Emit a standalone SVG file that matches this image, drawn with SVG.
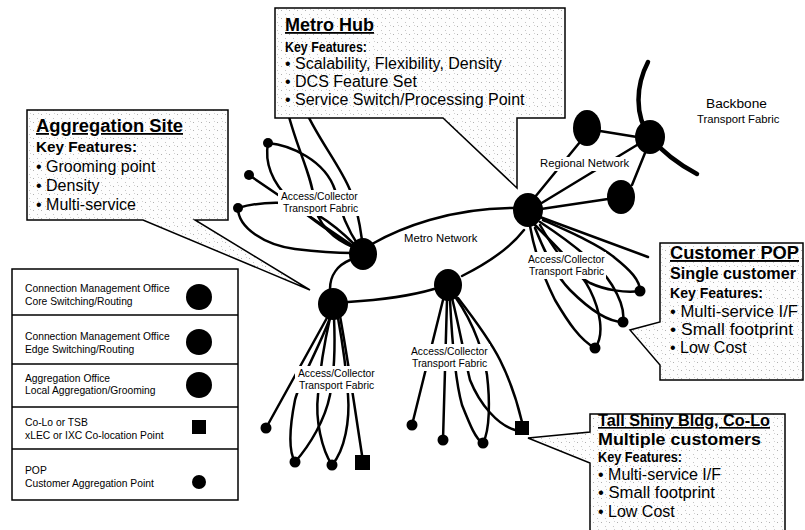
<svg xmlns="http://www.w3.org/2000/svg" width="805" height="530" viewBox="0 0 805 530">
<defs>
<pattern id="speck" width="8" height="8" patternUnits="userSpaceOnUse">
<rect width="8" height="8" fill="#fdfdfd"/>
<rect x="1" y="2" width="1" height="1" fill="#b0b0b0"/>
<rect x="5" y="6" width="1" height="1" fill="#c4c4c4"/>
<rect x="6" y="1" width="1" height="1" fill="#d0d0d0"/>
</pattern>
<style>
.ln{fill:none;stroke:#000;stroke-width:2.5;stroke-linecap:round}
.thick{fill:none;stroke:#000;stroke-width:4.5;stroke-linecap:round}
.big{fill:#000}
.pop{fill:#000}
.lbl{font-family:"Liberation Sans",Arial,sans-serif;font-size:10.3px;fill:#000}
.net{font-family:"Liberation Sans",Arial,sans-serif;font-size:11.3px;fill:#000}
.bg{fill:#fff}
.co{fill:url(#speck);stroke:#000;stroke-width:1.5}
.ttl{font-family:"Liberation Sans",Arial,sans-serif;font-weight:bold;text-decoration:underline;fill:#000}
.kf{font-family:"Liberation Sans",Arial,sans-serif;font-weight:bold;font-size:15.5px;fill:#000}
.bl{font-family:"Liberation Sans",Arial,sans-serif;font-size:16px;fill:#000}
.leg{font-family:"Liberation Sans",Arial,sans-serif;font-size:10.3px;fill:#000}
</style>
</defs>
<rect width="805" height="530" fill="#fff"/>

<g id="connectors">
<!-- metro ring -->
<path class="ln" d="M372,244 C400,228 450,208 514,208"/>
<path class="ln" d="M524,230 C510,248 490,262 462,276"/>
<path class="ln" d="M434,289 C410,296 380,300 348,302"/>
<path class="ln" d="M330,289 C330,275 338,265 350,260"/>
<!-- regional -->
<path class="ln" d="M535,197 L580,142"/>
<path class="ln" d="M540,204 L637,145"/>
<path class="ln" d="M541,209 L608,199"/>
<path class="ln" d="M600,131 L637,137"/>
<path class="ln" d="M645,153 L632,185"/>
<path class="thick" d="M648,62 C636,85 634,115 650,137 C665,155 680,165 697,174"/>
<!-- fabric N1 -->
<path class="ln" d="M286,105 C295,145 312,175 314,200 C316,225 335,240 355,248"/>
<path class="ln" d="M303,105 C315,135 340,165 350,190 C356,205 360,225 362,240"/>
<path class="ln" d="M268,143 C290,145 325,160 335,190 C340,210 348,230 358,245"/>
<path class="ln" d="M268,143 C264,165 275,185 290,200 C305,215 330,232 355,248"/>
<path class="ln" d="M249,175 L356,248"/>
<path class="ln" d="M238,208 C255,203 268,202 285,203 C310,206 335,225 355,245"/>
<path class="ln" d="M238,208 C238,228 265,245 295,249 C320,252 340,253 352,253"/>
<!-- fabric N2 -->
<path class="ln" d="M328,316 L266,428"/>
<path class="ln" d="M330,318 C318,350 300,380 295,400 C290,425 288,450 295,462"/>
<path class="ln" d="M295,462 C310,445 325,420 330,395 C335,370 335,340 334,318"/>
<path class="ln" d="M332,465 C322,450 315,420 318,395 C320,370 325,340 330,318"/>
<path class="ln" d="M332,465 C345,450 350,420 348,395 C346,365 342,340 338,318"/>
<path class="ln" d="M340,316 C348,360 355,410 362,455"/>
<!-- fabric N3 -->
<path class="ln" d="M443,300 L412,425"/>
<path class="ln" d="M447,300 L443,440"/>
<path class="ln" d="M450,300 C452,340 455,380 462,405 C470,425 476,440 483,443"/>
<path class="ln" d="M483,443 C490,430 490,400 487,375 C484,355 475,325 456,298"/>
<path class="ln" d="M452,298 C460,330 465,360 470,380 C480,405 498,425 515,430"/>
<path class="ln" d="M458,298 C475,320 490,340 500,360 C510,380 518,405 522,422"/>
<!-- fabric N4 -->
<path class="ln" d="M540,217 L648,257"/>
<path class="ln" d="M543,220 C570,232 600,245 615,258 C630,270 640,280 640,291"/>
<path class="ln" d="M640,291 C625,293 605,290 590,283 C575,275 560,260 540,225"/>
<path class="ln" d="M540,222 C575,245 600,265 612,285 C620,298 625,310 623,322"/>
<path class="ln" d="M623,322 C605,322 585,305 570,290 C560,280 550,265 535,228"/>
<path class="ln" d="M535,225 C560,250 580,270 590,290 C600,310 605,335 595,348"/>
<path class="ln" d="M530,226 C535,255 545,280 555,300 C568,322 580,340 595,348"/>
</g>

<g id="node-n1"><ellipse class="big" cx="363" cy="254" rx="14" ry="16"/></g>
<g id="node-n2"><ellipse class="big" cx="333" cy="304" rx="15" ry="16"/></g>
<g id="node-n3"><ellipse class="big" cx="448" cy="285" rx="14" ry="16"/></g>
<g id="node-n4"><ellipse class="big" cx="528" cy="210" rx="15" ry="17"/></g>
<g id="node-ra"><ellipse class="big" cx="587" cy="128" rx="14" ry="18"/></g>
<g id="node-rb"><ellipse class="big" cx="650" cy="137" rx="15" ry="17"/></g>
<g id="node-rc"><ellipse class="big" cx="621" cy="197" rx="14" ry="17"/></g>

<g id="pops">
<circle class="pop" cx="268" cy="143" r="5"/>
<circle class="pop" cx="249" cy="175" r="5"/>
<circle class="pop" cx="238" cy="208" r="5"/>
<circle class="pop" cx="266" cy="428" r="5.5"/>
<circle class="pop" cx="295" cy="462" r="5.5"/>
<circle class="pop" cx="332" cy="465" r="5.5"/>
<rect class="pop" x="355" y="455" width="15" height="15"/>
<circle class="pop" cx="412" cy="425" r="5.5"/>
<circle class="pop" cx="443" cy="440" r="5.5"/>
<circle class="pop" cx="483" cy="443" r="5.5"/>
<rect class="pop" x="515" y="421" width="14" height="14"/>
<circle class="pop" cx="640" cy="291" r="5.5"/>
<circle class="pop" cx="623" cy="322" r="5.5"/>
<circle class="pop" cx="595" cy="348" r="5.5"/>
</g>

<g id="labels">
<rect class="bg" x="278" y="190" width="83" height="26"/>
<text class="lbl" x="281" y="200">Access/Collector</text>
<text class="lbl" x="283" y="212">Transport Fabric</text>
<rect class="bg" x="295" y="366" width="82" height="27"/>
<text class="lbl" x="298" y="377">Access/Collector</text>
<text class="lbl" x="299" y="389">Transport Fabric</text>
<rect class="bg" x="408" y="344" width="82" height="27"/>
<text class="lbl" x="411" y="355">Access/Collector</text>
<text class="lbl" x="412" y="367">Transport Fabric</text>
<rect class="bg" x="525" y="252" width="81" height="27"/>
<text class="lbl" x="528" y="263">Access/Collector</text>
<text class="lbl" x="529" y="275">Transport Fabric</text>
<rect class="bg" x="538" y="157" width="92" height="14"/>
<text class="net" x="540" y="167">Regional Network</text>
<text class="net" x="404" y="242">Metro Network</text>
<text class="net" x="706" y="108" style="font-size:13.7px">Backbone</text>
<text class="net" x="697" y="123">Transport Fabric</text>
</g>

<g id="callout-aggregation">
<path class="co" d="M27,110 H228 V220 H195 L310,290 L143,220 H27 Z"/>
<text class="ttl" x="36" y="132" font-size="18" textLength="147" lengthAdjust="spacingAndGlyphs">Aggregation Site</text>
<text class="kf" x="36" y="152" textLength="101" lengthAdjust="spacingAndGlyphs">Key Features:</text>
<text class="bl" x="36" y="172">• Grooming point</text>
<text class="bl" x="36" y="191">• Density</text>
<text class="bl" x="36" y="210">• Multi-service</text>
</g>

<g id="callout-metrohub">
<path class="co" d="M275,8 H565 V118 H517 V188 L443,118 H275 Z"/>
<text class="ttl" x="285" y="31" font-size="18">Metro Hub</text>
<text class="kf" x="285" y="52" style="font-size:15px" textLength="82" lengthAdjust="spacingAndGlyphs">Key Features:</text>
<text class="bl" x="285" y="69">• Scalability, Flexibility, Density</text>
<text class="bl" x="285" y="87">• DCS Feature Set</text>
<text class="bl" x="285" y="105">• Service Switch/Processing Point</text>
</g>

<g id="callout-customerpop">
<path class="co" d="M660,243 H803 V380 H660 V365 L630,330 L660,322 Z"/>
<text class="ttl" x="670" y="259" font-size="19" textLength="129" lengthAdjust="spacingAndGlyphs">Customer POP</text>
<text class="kf" x="670" y="279" style="font-size:16px" textLength="126" lengthAdjust="spacingAndGlyphs">Single customer</text>
<text class="kf" x="670" y="298" textLength="93" lengthAdjust="spacingAndGlyphs">Key Features:</text>
<text class="bl" x="670" y="317" textLength="128" lengthAdjust="spacingAndGlyphs">• Multi-service I/F</text>
<text class="bl" x="670" y="335" textLength="123" lengthAdjust="spacingAndGlyphs">• Small footprint</text>
<text class="bl" x="670" y="353">• Low Cost</text>
</g>

<g id="callout-tallshiny">
<path class="co" d="M590,414 H785 V540 H590 V463 L528,438 L590,432 Z"/>
<text class="ttl" x="598" y="426" font-size="16.5" textLength="172" lengthAdjust="spacingAndGlyphs">Tall Shiny Bldg, Co-Lo</text>
<text class="kf" x="598" y="445" style="font-size:16.5px" textLength="163" lengthAdjust="spacingAndGlyphs">Multiple customers</text>
<text class="kf" x="598" y="462" textLength="84" lengthAdjust="spacingAndGlyphs">Key Features:</text>
<text class="bl" x="598" y="480" textLength="123" lengthAdjust="spacingAndGlyphs">• Multi-service I/F</text>
<text class="bl" x="598" y="498" textLength="117" lengthAdjust="spacingAndGlyphs">• Small footprint</text>
<text class="bl" x="598" y="517">• Low Cost</text>
</g>

<g id="legend">
<rect x="12" y="269" width="226" height="231" fill="#fff" stroke="#000" stroke-width="1.5"/>
<line x1="12" y1="315" x2="238" y2="315" stroke="#000" stroke-width="1.5"/>
<line x1="12" y1="364" x2="238" y2="364" stroke="#000" stroke-width="1.5"/>
<line x1="12" y1="407" x2="238" y2="407" stroke="#000" stroke-width="1.5"/>
<line x1="12" y1="449" x2="238" y2="449" stroke="#000" stroke-width="1.5"/>
<text class="leg" x="25" y="292">Connection Management Office</text>
<text class="leg" x="25" y="305">Core Switching/Routing</text>
<circle cx="199" cy="297" r="13"/>
<text class="leg" x="25" y="340">Connection Management Office</text>
<text class="leg" x="25" y="353">Edge Switching/Routing</text>
<circle cx="199" cy="342" r="13"/>
<text class="leg" x="25" y="382">Aggregation Office</text>
<text class="leg" x="25" y="394">Local Aggregation/Grooming</text>
<circle cx="199" cy="385" r="13"/>
<text class="leg" x="25" y="426">Co-Lo or TSB</text>
<text class="leg" x="25" y="439">xLEC or IXC Co-location Point</text>
<rect x="192" y="420" width="14" height="14"/>
<text class="leg" x="25" y="474">POP</text>
<text class="leg" x="25" y="487">Customer Aggregation Point</text>
<circle cx="199" cy="482" r="7"/>
</g>
</svg>
